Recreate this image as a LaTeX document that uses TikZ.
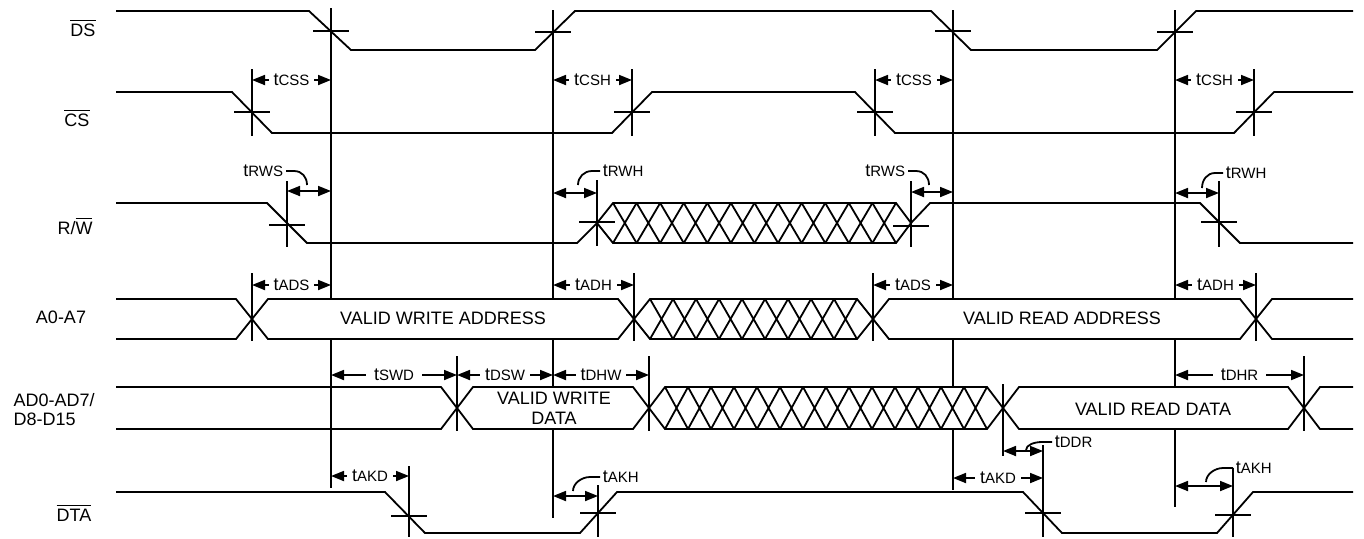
\documentclass[tikz,border=0pt]{standalone}
\usepackage{fontspec}
\setmainfont{Liberation Sans}
\usetikzlibrary{arrows.meta}
\newcommand\tlab[1]{t{\fontsize{7.5}{8}\selectfont #1}}
\newcommand\ovl[1]{$\overline{\hbox{#1}}$}
\begin{document}
\begin{tikzpicture}[x=0.5pt,y=-0.5pt,line width=0.9pt,
  font=\fontsize{9}{10}\selectfont,
  >={Triangle[length=6.5pt,width=5pt]},
  lbl/.style={fill=white,inner xsep=2.5pt,inner ysep=1pt},
  lead/.style={inner sep=1pt}]
\useasboundingbox (0,0) rectangle (1364,538);
% Signal names
\node[anchor=base] (ds) at (83,36) {\ovl{DS}};
\node[anchor=base] (cs) at (77,126) {\ovl{CS}};
\node[anchor=base] (rw) at (75,234) {R/\ovl{W}};
\node[anchor=base] (addr) at (61,323) {A0-A7};
\node[anchor=base west] (ad1) at (6,406) {AD0-AD7/};
\node[anchor=base west] (ad2) at (6,425) {D8-D15};
\node[anchor=base] (dta) at (74,521) {\ovl{DTA}};
% Reference lines
\draw (331,8) -- (331,488);
\draw (553,10) -- (553,518);
\draw (953,10) -- (953,490);
\draw (1175,10) -- (1175,507);
% DS
\draw (116,11) -- (309,11) -- (351,50) -- (535,50) -- (575,11) -- (931,11) -- (971,50) -- (1157,50) -- (1196,11) -- (1353,11);
\draw (313,31) -- (349,31);
\draw (535,32) -- (571,32);
\draw (935,31) -- (971,31);
\draw (1157,32) -- (1193,32);
% CS
\draw (116,92) -- (232,92) -- (272,133) -- (612,133) -- (652,92) -- (855,92) -- (895,133) -- (1234,133) -- (1274,92) -- (1353,92);
\draw (252,69) -- (252,136);
\draw (632,69) -- (632,136);
\draw (875,69) -- (875,136);
\draw (1254,69) -- (1254,136);
\draw (234,112) -- (270,112);
\draw (614,112) -- (650,112);
\draw (857,112) -- (893,112);
\draw (1236,112) -- (1272,112);
\draw[<->] (252,80) -- node[lbl] (css1) {\tlab{CSS}} (331,80);
\draw[<->] (553,80) -- node[lbl] (csh1) {\tlab{CSH}} (632,80);
\draw[<->] (875,80) -- node[lbl] (css2) {\tlab{CSS}} (953,80);
\draw[<->] (1175,80) -- node[lbl] (csh2) {\tlab{CSH}} (1254,80);
% R/W
\draw (116,203) -- (267,203) -- (307,243) -- (577,243) -- (597,223);
\draw (597,223) -- (613,203) -- (896,203) -- (911,223) -- (896,243) -- (613,243) -- cycle;
\foreach \i in {0,...,11}
  \draw ({613+\i*23.58},203) -- ({613+(\i+1)*23.58},243) ({613+\i*23.58},243) -- ({613+(\i+1)*23.58},203);
\draw (911,223) -- (930,203) -- (1200,203) -- (1240,243) -- (1353,243);
\draw (287,181) -- (287,247);
\draw (597,180) -- (597,246);
\draw (911,181) -- (911,247);
\draw (1219,181) -- (1219,247);
\draw (269,225) -- (305,225);
\draw (579,222) -- (615,222);
\draw (893,226) -- (929,226);
\draw (1201,222) -- (1237,222);
\draw[<->] (287,191) -- (331,191);
\draw[<->] (553,193) -- (597,193);
\draw[<->] (911,192) -- (953,192);
\draw[<->] (1175,193) -- (1219,193);
\node[lead,anchor=east] (rws1) at (286,171) {\tlab{RWS}};
\node[lead,anchor=west] (rwh1) at (600,171) {\tlab{RWH}};
\node[lead,anchor=east] (rws2) at (908,171) {\tlab{RWS}};
\node[lead,anchor=west] (rwh2) at (1223,173) {\tlab{RWH}};
\draw (rws1.east) -- ++(8,0) .. controls +(8,0) and +(0,-8) .. ++(13,14);
\draw (rwh1.west) -- ++(-8,0) .. controls +(-8,0) and +(0,-8) .. ++(-14,14);
\draw (rws2.east) -- ++(8,0) .. controls +(8,0) and +(0,-8) .. ++(13,14);
\draw (rwh2.west) -- ++(-8,0) .. controls +(-8,0) and +(0,-8) .. ++(-13,15);
% A0-A7
\fill[white] (252,319) -- (268,299) -- (618,299) -- (634,319) -- (650,299) -- (857,299) -- (873,319) -- (889,299) -- (1240,299) -- (1256,319)
  -- (1240,339) -- (889,339) -- (873,319) -- (857,339) -- (650,339) -- (634,319) -- (618,339) -- (268,339) -- cycle;
\draw (116,299) -- (236,299) -- (268,339) -- (618,339) -- (650,299) -- (857,299) -- (889,339) -- (1240,339) -- (1272,299) -- (1353,299);
\draw (116,339) -- (236,339) -- (268,299) -- (618,299) -- (650,339) -- (857,339) -- (889,299) -- (1240,299) -- (1272,339) -- (1353,339);
\foreach \i in {0,...,8}
  \draw ({650+\i*23},299) -- ({650+(\i+1)*23},339) ({650+\i*23},339) -- ({650+(\i+1)*23},299);
\draw (252,273) -- (252,341);
\draw (634,273) -- (634,341);
\draw (873,273) -- (873,341);
\draw (1256,273) -- (1256,341);
\draw[<->] (252,285) -- node[lbl] (ads1) {\tlab{ADS}} (331,285);
\draw[<->] (553,285) -- node[lbl] (adh1) {\tlab{ADH}} (634,285);
\draw[<->] (873,285) -- node[lbl] (ads2) {\tlab{ADS}} (953,285);
\draw[<->] (1175,285) -- node[lbl] (adh2) {\tlab{ADH}} (1256,285);
\node (wraddr) at (443,318) {VALID WRITE ADDRESS};
\node (rdaddr) at (1062,318) {VALID READ ADDRESS};
% AD0-AD7/D8-D15
\fill[white] (457,408) -- (473,387) -- (633,387) -- (649,408) -- (665,387) -- (987,387) -- (1003,408) -- (1019,387) -- (1288,387) -- (1304,408)
  -- (1288,429) -- (1019,429) -- (1003,408) -- (987,429) -- (665,429) -- (649,408) -- (633,429) -- (473,429) -- cycle;
\draw (116,387) -- (441,387) -- (473,429) -- (633,429) -- (665,387) -- (987,387) -- (1019,429) -- (1288,429) -- (1320,387) -- (1353,387);
\draw (116,429) -- (441,429) -- (473,387) -- (633,387) -- (665,429) -- (987,429) -- (1019,387) -- (1288,387) -- (1320,429) -- (1353,429);
\foreach \i in {0,...,13}
  \draw ({665+\i*23},387) -- ({665+(\i+1)*23},429) ({665+\i*23},429) -- ({665+(\i+1)*23},387);
\draw (457,356) -- (457,431);
\draw (649,356) -- (649,431);
\draw (1003,384) -- (1003,456);
\draw (1304,356) -- (1304,431);
\draw[<->] (331,375) -- node[lbl,inner xsep=4pt] (swd) {\tlab{SWD}} (457,375);
\draw[<->] (457,375) -- node[lbl] (dsw) {\tlab{DSW}} (553,375);
\draw[<->] (553,375) -- node[lbl] (dhw) {\tlab{DHW}} (649,375);
\draw[<->] (1175,375) -- node[lbl,inner xsep=4pt] (dhr) {\tlab{DHR}} (1304,375);
\node[align=center] (wrdata) at (554,408) {VALID WRITE\\DATA};
\node (rddata) at (1153,409) {VALID READ DATA};
\draw[<->] (1003,451) -- (1043,451);
\node[lead,anchor=west] (ddr) at (1052,442) {\tlab{DDR}};
\draw (ddr.west) -- ++(-10,0) .. controls +(-8,0) and +(0,-5) .. ++(-16,8);
% DTA
\draw (116,492) -- (385,492) -- (425,533) -- (580,533) -- (617,492) -- (1023,492) -- (1062,533) -- (1217,533) -- (1253,492) -- (1353,492);
\draw (409,466) -- (409,537);
\draw (598,485) -- (598,537);
\draw (1043,445) -- (1043,537);
\draw (1233,468) -- (1233,537);
\draw (391,516) -- (427,516);
\draw (580,513) -- (616,513);
\draw (1025,513) -- (1061,513);
\draw (1215,515) -- (1251,515);
\draw[<->] (331,476) -- node[lbl] (akd1) {\tlab{AKD}} (409,476);
\draw[<->] (953,478) -- node[lbl] (akd2) {\tlab{AKD}} (1043,478);
\draw[<->] (553,496) -- (598,496);
\draw[<->] (1175,486) -- (1233,486);
\node[lead,anchor=west] (akh1) at (600,477) {\tlab{AKH}};
\node[lead,anchor=west] (akh2) at (1233,468) {\tlab{AKH}};
\draw (akh1.west) -- ++(-10,0) .. controls +(-8,0) and +(0,-8) .. ++(-17,14);
\draw (akh2.west) -- ++(-10,0) .. controls +(-8,0) and +(0,-8) .. ++(-17,14);
\end{tikzpicture}
\end{document}
